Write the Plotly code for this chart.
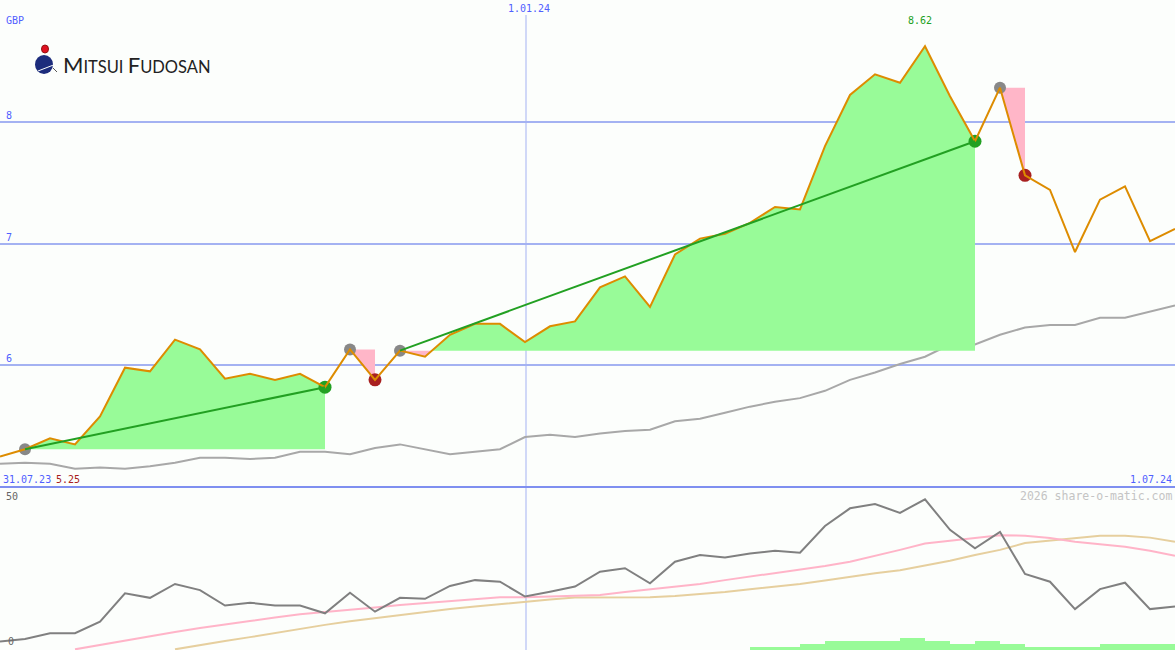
import plotly.graph_objects as go

# ---------------- data ----------------
idx = list(range(48))
price = [5.25, 5.31, 5.40, 5.35, 5.58, 5.98, 5.95, 6.21, 6.13, 5.89, 5.93, 5.88,
         5.93, 5.82, 6.13, 5.88, 6.12, 6.07, 6.25, 6.34, 6.34, 6.19, 6.32, 6.36,
         6.64, 6.73, 6.48, 6.91, 7.04, 7.08, 7.17, 7.30, 7.28, 7.80, 8.22, 8.39,
         8.32, 8.62, 8.21, 7.84, 8.28, 7.56, 7.44, 6.93, 7.36, 7.47, 7.02, 7.12]
price_avg = [5.19, 5.20, 5.19, 5.15, 5.16, 5.15, 5.17, 5.20, 5.24, 5.24, 5.23, 5.24,
             5.29, 5.29, 5.27, 5.32, 5.35, 5.31, 5.27, 5.29, 5.31, 5.41, 5.43, 5.41,
             5.44, 5.46, 5.47, 5.54, 5.56, 5.61, 5.66, 5.70, 5.73, 5.79, 5.88, 5.94,
             6.01, 6.07, 6.17, 6.17, 6.25, 6.31, 6.33, 6.33, 6.39, 6.39, 6.44, 6.49]
trend_start = [1, 14, 16, 40]
trend_end = [13, 15, 39, 41]

momentum = [2.6, 3.4, 5.2, 5.2, 8.8, 17.6, 16.2, 20.5, 18.6, 13.8, 14.7, 13.8,
            13.8, 11.4, 17.8, 11.9, 16.2, 15.9, 19.9, 21.7, 21.2, 16.6, 18.1, 19.7,
            24.3, 25.4, 20.7, 27.4, 29.5, 28.7, 30.0, 30.8, 30.2, 38.5, 44.0, 45.3,
            42.6, 46.8, 37.3, 31.6, 36.7, 23.6, 21.2, 12.7, 18.9, 20.9, 12.7, 13.5]
signal_fast = [None, None, None, 0.2, 1.6, 2.8, 4.4, 5.6, 6.8, 7.8, 9.0, 10.1,
               11.1, 11.8, 12.4, 13.2, 14.0, 14.6, 15.2, 15.8, 16.4, 16.4, 16.6, 16.8,
               17.1, 18.0, 18.9, 19.7, 20.5, 21.7, 22.8, 23.8, 24.8, 26.1, 27.4, 29.2,
               31.1, 33.1, 34.0, 34.9, 35.6, 35.5, 34.8, 33.6, 32.9, 32.1, 30.8, 29.3]
signal_slow = [None, None, None, None, None, None, None, 0.2, 1.6, 2.8, 4.0, 5.3,
               6.6, 7.8, 8.9, 9.9, 10.9, 11.8, 12.7, 13.5, 14.3, 15.0, 15.7, 16.3,
               16.4, 16.4, 16.4, 16.8, 17.3, 18.0, 18.9, 19.7, 20.5, 21.6, 22.8, 23.8,
               24.8, 26.2, 27.7, 29.5, 31.1, 33.2, 34.0, 34.7, 35.5, 35.5, 34.9, 33.6]
volume = [0, 0, 0, 0, 0, 0, 0, 0, 0, 0, 0, 0, 0, 0, 0, 0, 0, 0, 0, 0, 0, 0, 0, 0,
          0, 0, 0, 0, 0, 0, 0.84, 0.84, 1.86, 2.8, 2.8, 2.8, 3.73, 2.8, 1.86, 2.8,
          1.86, 0.84, 0.84, 0.84, 1.86, 1.86, 1.86]

y_grid = [6, 7, 8]
x_tick_pos = [21.04]
x_tick_text = ["1.01.24"]
start_label = "31.07.23"
end_label = "1.07.24"
currency = "GBP"
osc_top, osc_bottom = 50, 0

# ---------------- style ----------------
BG = "#fcfefc"
GRID = "#a4b2f2"
BLUE_TXT = "#5060ff"
SEP = "#7f8ff0"
ORANGE = "#dd8c00"
FILL_G = "#98fb98"
FILL_P = "#ffb6c8"
GREEN = "#22a022"
RED = "#a82020"
MONO = "DejaVu Sans Mono"
W, H = 1175, 650


def px(xp):
    return xp / W


def py(yp):
    return 1 - yp / H


fig = go.Figure()

# top moving average
fig.add_trace(go.Scatter(x=idx, y=price_avg, mode="lines",
                         line=dict(color="#a8a8a8", width=2), hoverinfo="skip"))


def fill_polys(s, e, base):
    xs, ys = [], []
    for i in range(s, e):
        x0, y0, x1, y1 = idx[i], price[i], idx[i + 1], price[i + 1]
        if i == s:
            xs.append(x0)
            ys.append(y0)
        if (y0 - base) * (y1 - base) < 0:
            t = (base - y0) / (y1 - y0)
            xs.append(x0 + t * (x1 - x0))
            ys.append(base)
        xs.append(x1)
        ys.append(y1)
    up = [max(v, base) for v in ys] + [base, base]
    dn = [min(v, base) for v in ys] + [base, base]
    xx = xs + [xs[-1], xs[0]]
    return xx, up, dn


for s, e in zip(trend_start, trend_end):
    base = price[s]
    xx, up, dn = fill_polys(s, e, base)
    fig.add_trace(go.Scatter(x=xx, y=up, mode="lines", fill="toself", fillcolor=FILL_G,
                             line=dict(width=0), hoverinfo="skip"))
    fig.add_trace(go.Scatter(x=xx, y=dn, mode="lines", fill="toself", fillcolor=FILL_P,
                             line=dict(width=0), hoverinfo="skip"))

# markers
fig.add_trace(go.Scatter(x=[idx[s] for s in trend_start], y=[price[s] for s in trend_start],
                         mode="markers", marker=dict(size=12, color="#888888"), hoverinfo="skip"))
end_cols = [GREEN if price[e] > price[s] else RED for s, e in zip(trend_start, trend_end)]
fig.add_trace(go.Scatter(x=[idx[e] for e in trend_end], y=[price[e] for e in trend_end],
                         mode="markers", marker=dict(size=13, color=end_cols), hoverinfo="skip"))

# price line
fig.add_trace(go.Scatter(x=idx, y=price, mode="lines",
                         line=dict(color=ORANGE, width=2), hoverinfo="skip"))

# trend lines
for s, e in zip(trend_start, trend_end):
    if price[e] > price[s] and e - s > 1:
        fig.add_trace(go.Scatter(x=[idx[s], idx[e]], y=[price[s], price[e]], mode="lines",
                                 line=dict(color=GREEN, width=2), hoverinfo="skip"))

# bottom panel
fig.add_trace(go.Bar(x=[i + 0.5 for i in range(len(volume))], y=volume, width=1,
                     marker=dict(color=FILL_G, line=dict(width=0)),
                     xaxis="x2", yaxis="y2", hoverinfo="skip"))
fig.add_trace(go.Scatter(x=idx, y=signal_slow, mode="lines", line=dict(color="#e6cf9e", width=2),
                         xaxis="x2", yaxis="y2", hoverinfo="skip"))
fig.add_trace(go.Scatter(x=idx, y=signal_fast, mode="lines", line=dict(color="#ffb4c8", width=2),
                         xaxis="x2", yaxis="y2", hoverinfo="skip"))
fig.add_trace(go.Scatter(x=idx, y=momentum, mode="lines", line=dict(color="#808080", width=2),
                         xaxis="x2", yaxis="y2", hoverinfo="skip"))

shapes = []
for xv in x_tick_pos:
    shapes.append(dict(type="line", xref="x", yref="paper", x0=xv, x1=xv, y0=0, y1=py(15),
                       line=dict(color=GRID, width=1), layer="below"))
shapes.append(dict(type="line", xref="paper", yref="paper", x0=0, x1=1, y0=py(487), y1=py(487),
                   line=dict(color=SEP, width=2), layer="above"))
# logo
shapes.append(dict(type="circle", xref="paper", yref="paper", x0=px(35), x1=px(53),
                   y0=py(74), y1=py(55), fillcolor="#1c2c7c", line=dict(width=0)))
shapes.append(dict(type="line", xref="paper", yref="paper", x0=px(38), x1=px(56),
                   y0=py(71), y1=py(64), line=dict(color="#fcfefc", width=1)))
shapes.append(dict(type="line", xref="paper", yref="paper", x0=px(53), x1=px(57),
                   y0=py(68), y1=py(72), line=dict(color="#555555", width=1)))
shapes.append(dict(type="circle", xref="paper", yref="paper", x0=px(41.5), x1=px(48.5),
                   y0=py(53), y1=py(45), fillcolor="#e01020", line=dict(color="#901010", width=1)))

annotations = []


def txt(text, x, y, color, size=10, xanchor="left", xref="paper", yref="paper",
        yanchor="middle", family=MONO, **kw):
    annotations.append(dict(text=text, x=x, y=y, xref=xref, yref=yref, xanchor=xanchor,
                            yanchor=yanchor, showarrow=False,
                            font=dict(family=family, size=size, color=color), **kw))


txt(currency, px(4), py(20), BLUE_TXT)
for g in y_grid:
    txt(str(g), px(4), g, BLUE_TXT, yref="y", yanchor="bottom", yshift=-1)
for xv, t in zip(x_tick_pos, x_tick_text):
    txt(t, xv, py(9), BLUE_TXT, xanchor="center", xref="x", xshift=3)
txt(start_label, px(1), py(479), BLUE_TXT)
txt(f"{price[0]:.2f}", px(54), py(479), RED)
txt(end_label, px(1174), py(479), BLUE_TXT, xanchor="right")
txt("2026 share-o-matic.com", px(1174), py(496), "#c4c4c4", size=11.5, xanchor="right")
txt(str(osc_top), px(4), py(496), "#666666")
txt(str(osc_bottom), px(6), py(641), "#666666")
imax = max(idx, key=lambda i: price[i])
txt(f"{price[imax]:.2f}", idx[imax], price[imax], GREEN, xanchor="center", xref="x", yref="y",
    yanchor="bottom", yshift=18, xshift=-5)
txt("<span style='font-size:22px'>M</span>ITSUI <span style='font-size:22px'>F</span>UDOSAN",
    px(61), py(65), "#222222", size=16.5, family="Lato")

fig.update_layout(
    width=W, height=H, margin=dict(l=0, r=0, t=0, b=0),
    paper_bgcolor=BG, plot_bgcolor=BG, showlegend=False, bargap=0,
    xaxis=dict(domain=[0, 1], range=[0, 47], showgrid=False, zeroline=False,
               showticklabels=False, anchor="y", fixedrange=True),
    yaxis=dict(domain=[163 / 650, 1], range=[5, 9], tickvals=y_grid, showgrid=True,
               gridcolor=GRID, gridwidth=2, showticklabels=False, zeroline=False,
               anchor="x", fixedrange=True),
    xaxis2=dict(domain=[0, 1], range=[0, 47], showgrid=False, zeroline=False,
                showticklabels=False, anchor="y2", fixedrange=True),
    yaxis2=dict(domain=[0, 161 / 650], range=[0, 50], showgrid=False, zeroline=False,
                showticklabels=False, anchor="x2", fixedrange=True),
    shapes=shapes, annotations=annotations,
)

fig.write_html("out.html", config={"displayModeBar": False})
